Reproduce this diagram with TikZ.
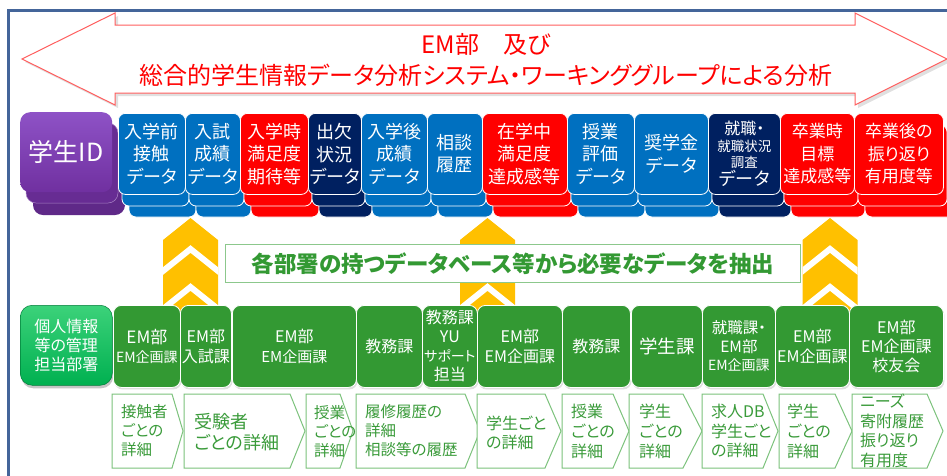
\documentclass[tikz,border=0pt]{standalone}
\usepackage{fontspec}
\setmainfont{Noto Sans CJK JP}[RawFeature=+palt]
\usetikzlibrary{shadows}
\definecolor{cblue}{HTML}{0070C0}
\definecolor{cred}{HTML}{FF0000}
\definecolor{cnavy}{HTML}{002060}
\definecolor{cpurple}{HTML}{7030A0}
\definecolor{cpurpletop}{HTML}{8E52C6}
\definecolor{cgreen}{HTML}{339933}
\definecolor{cbright}{HTML}{00B050}
\definecolor{cbrighttop}{HTML}{3CD27A}
\definecolor{cyellow}{HTML}{FFC000}
\definecolor{cframe}{HTML}{44659A}
\definecolor{carrow}{HTML}{FF5E5E}
\definecolor{cline}{HTML}{7CC27C}
\definecolor{cmid}{HTML}{8CC88C}
\definecolor{ctext}{HTML}{3A9B3A}
\newcommand\dlayers[3]{%
  \path[fill=#3, draw=white, line width=0.8pt, rounded corners=7pt] (#1+11,136) rectangle ++(#2,81);
  \path[fill=#3, draw=white, line width=0.8pt, rounded corners=7pt] (#1+4,125) rectangle ++(#2,81);
}
\newcommand\chevcol[1]{%
  \begin{scope}
    \clip (#1,218) -- (#1+27.5,240) -- (#1+27.5,318) -- (#1-27.5,318) -- (#1-27.5,240) -- cycle;
    \fill[cyellow] (#1-30,214) rectangle (#1+30,318);
    \draw[white, line width=6pt] (#1-35,277) -- (#1,249) -- (#1+35,277);
    \draw[white, line width=6pt] (#1-35,315) -- (#1,287) -- (#1+35,315);
  \end{scope}
}
\newcommand\plate[3]{%
  \path[fill=white, draw=cline, line width=1pt] (#1,394) -- (#2,394) -- (#3,431) -- (#2,468) -- (#1,468) -- cycle;
}
\begin{document}
\begin{tikzpicture}[x=1pt,y=-1pt,
  card/.style={rectangle, rounded corners=7pt, draw=white, line width=0.8pt, text=white, minimum height=81pt, inner sep=0pt, align=center, anchor=north west, font=\fontsize{18}{22.5}\selectfont},
  gbox/.style={rectangle, rounded corners=8pt, fill=cgreen, draw=white, line width=0.8pt, text=white, minimum height=82pt, inner sep=0pt, align=center, anchor=north west, font=\fontsize{16}{19.5}\selectfont, drop shadow={opacity=0.25, shadow xshift=1pt, shadow yshift=-2pt}},
  ptext/.style={anchor=west, align=left, inner sep=0pt, text=ctext, font=\fontsize{15.5}{19}\selectfont},
]
\useasboundingbox (0,0) rectangle (947,475);
\fill[white] (0,0) rectangle (947,475);
% frame
\draw[cframe, line width=3pt] (8.5,476) -- (8.5,10.5) -- (948,10.5);
% double arrow with shadow
\fill[black, opacity=0.12] (25,62) -- (118,16) -- (118,28) -- (858,28) -- (858,16) -- (950,62) -- (858,108) -- (858,96) -- (118,96) -- (118,108) -- cycle;
\path[fill=white, draw=carrow, line width=1pt] (22,59) -- (115,13) -- (115,25) -- (855,25) -- (855,13) -- (947,59) -- (855,105) -- (855,93) -- (115,93) -- (115,105) -- cycle;
\node[text=cred, align=center, font=\fontsize{24}{31}\selectfont] (title) at (486,59.5) {EM部　及び\\総合的学生情報データ分析システム・ワーキンググループによる分析};
% student ID stack
\path[fill=cpurple!85!black, rounded corners=10pt] (33,135) rectangle ++(92,80);
\path[fill=cpurple!92!black, draw=cpurple!60!white, line width=0.5pt, rounded corners=10pt] (26,123) rectangle ++(92,80);
\node[rectangle, rounded corners=10pt, top color=cpurpletop, bottom color=cpurple, minimum width=92pt, minimum height=80pt, anchor=north west, inner sep=0pt, text=white, font=\fontsize{25}{28}\selectfont] (sid) at (20,112) {学生ID};
% data cards
\dlayers{118}{67}{cblue}
\node[card, fill=cblue, minimum width=67pt] (n1) at (118,113) {入学前\\接触\\データ};
\dlayers{185}{55}{cblue}
\node[card, fill=cblue, minimum width=55pt] (n2) at (185,113) {入試\\成績\\データ};
\dlayers{240}{68}{cred}
\node[card, fill=cred, minimum width=68pt] (n3) at (240,113) {入学時\\満足度\\期待等};
\dlayers{308}{53}{cnavy}
\node[card, fill=cnavy, minimum width=53pt] (n4) at (308,113) {出欠\\状況\\データ};
\dlayers{361}{66}{cblue}
\node[card, fill=cblue, minimum width=66pt] (n5) at (361,113) {入学後\\成績\\データ};
\dlayers{427}{55}{cblue}
\node[card, fill=cblue, minimum width=55pt] (n6) at (427,113) {相談\\履歴};
\dlayers{482}{85}{cred}
\node[card, fill=cred, minimum width=85pt] (n7) at (482,113) {在学中\\満足度\\達成感等};
\dlayers{567}{67}{cblue}
\node[card, fill=cblue, minimum width=67pt] (n8) at (567,113) {授業\\評価\\データ};
\dlayers{634}{74}{cblue}
\node[card, fill=cblue, minimum width=74pt] (n9) at (634,113) {奨学金\\データ};
\dlayers{708}{72}{cnavy}
\node[card, fill=cnavy, minimum width=72pt, font=\fontsize{13.5}{16.5}\selectfont] (n10) at (708,113) {{\fontsize{16}{16.5}\selectfont 就職・}\\就職状況\\調査\\[1pt]{\fontsize{18}{18}\selectfont データ}};
\dlayers{780}{74}{cred}
\node[card, fill=cred, minimum width=74pt, font=\fontsize{17}{22.5}\selectfont] (n11) at (780,113) {卒業時\\目標\\達成感等};
\dlayers{854}{89}{cred}
\node[card, fill=cred, minimum width=89pt, font=\fontsize{17}{22.5}\selectfont] (n12) at (854,113) {卒業後の\\振り返り\\有用度等};
% chevrons
\chevcol{190.5}
\chevcol{487.5}
\chevcol{830}
% middle label
\node[draw=cmid, line width=1.2pt, fill=white, minimum width=575pt, minimum height=38pt, anchor=north west, inner sep=0pt, text=cgreen, font=\fontsize{22.5}{26}\selectfont\bfseries] (mid) at (225,244) {各部署の持つデータベース等から必要なデータを抽出};
% green row
\node[rectangle, rounded corners=12pt, top color=cbrighttop, bottom color=cbright, draw=cbright!70!black, line width=0.5pt, minimum width=92pt, minimum height=80pt, anchor=north west, inner sep=0pt, text=white, align=center, font=\fontsize{16}{19}\selectfont, drop shadow={opacity=0.45, shadow xshift=1pt, shadow yshift=-3pt}] (g0) at (20,305) {個人情報\\等の管理\\担当部署};
\node[gbox, minimum width=67pt] (g1) at (113,305) {{\fontsize{17}{19.5}\selectfont EM部}\\{\fontsize{14}{19.5}\selectfont EM企画課}};
\node[gbox, minimum width=51pt] (g2) at (180,305) {EM部\\入試課};
\node[gbox, minimum width=124pt] (g3) at (232,305) {EM部\\{\fontsize{15}{19.5}\selectfont EM企画課}};
\node[gbox, minimum width=66pt] (g4) at (356,305) {教務課};
\node[gbox, minimum width=55pt, font=\fontsize{16}{19}\selectfont] (g5) at (422,305) {教務課\\YU\\{\fontsize{14}{19}\selectfont サポート}\\担当};
\node[gbox, minimum width=85pt] (g6) at (477,305) {EM部\\EM企画課};
\node[gbox, minimum width=68pt] (g7) at (562,305) {教務課};
\node[gbox, minimum width=71pt, font=\fontsize{18.5}{20}\selectfont] (g8) at (631,305) {学生課};
\node[gbox, minimum width=73pt, font=\fontsize{15.5}{18.5}\selectfont] (g9) at (702,305) {就職課・\\EM部\\{\fontsize{14}{18.5}\selectfont EM企画課}};
\node[gbox, minimum width=74pt] (g10) at (775,305) {EM部\\EM企画課};
\node[gbox, minimum width=94pt, font=\fontsize{16}{19}\selectfont] (g11) at (849,305) {EM部\\EM企画課\\校友会};
% detail plates
\plate{112}{172}{183}
\node[ptext] (p1) at (121,431) {接触者\\ごとの\\詳細};
\plate{184}{290}{305}
\node[ptext, font=\fontsize{18}{21}\selectfont] (p2) at (194,432) {受験者\\ごとの詳細};
\plate{306}{340}{353}
\node[ptext] (p3) at (314,432) {授業\\ごとの\\詳細};
\plate{356}{465}{480}
\node[ptext] (p4) at (365,431) {履修履歴の\\詳細\\相談等の履歴};
\plate{477}{545}{561}
\node[ptext, font=\fontsize{16}{19.5}\selectfont] (p5) at (486,433) {学生ごと\\の詳細};
\plate{562}{613}{629}
\node[ptext, font=\fontsize{16}{20}\selectfont] (p6) at (571,431) {授業\\ごとの\\詳細};
\plate{629}{683}{702}
\node[ptext, font=\fontsize{16}{20}\selectfont] (p7) at (639,431) {学生\\ごとの\\詳細};
\plate{702}{763}{778}
\node[ptext, font=\fontsize{16}{19.5}\selectfont] (p8) at (711,431) {求人DB\\学生ごと\\の詳細};
\plate{779}{835}{852}
\node[ptext, font=\fontsize{16}{20}\selectfont] (p9) at (787,431) {学生\\ごとの\\詳細};
\plate{852}{927}{943}
\node[ptext, font=\fontsize{16}{19.5}\selectfont] (p10) at (860,431) {ニーズ\\寄附履歴\\振り返り\\有用度};
\end{tikzpicture}
\end{document}
